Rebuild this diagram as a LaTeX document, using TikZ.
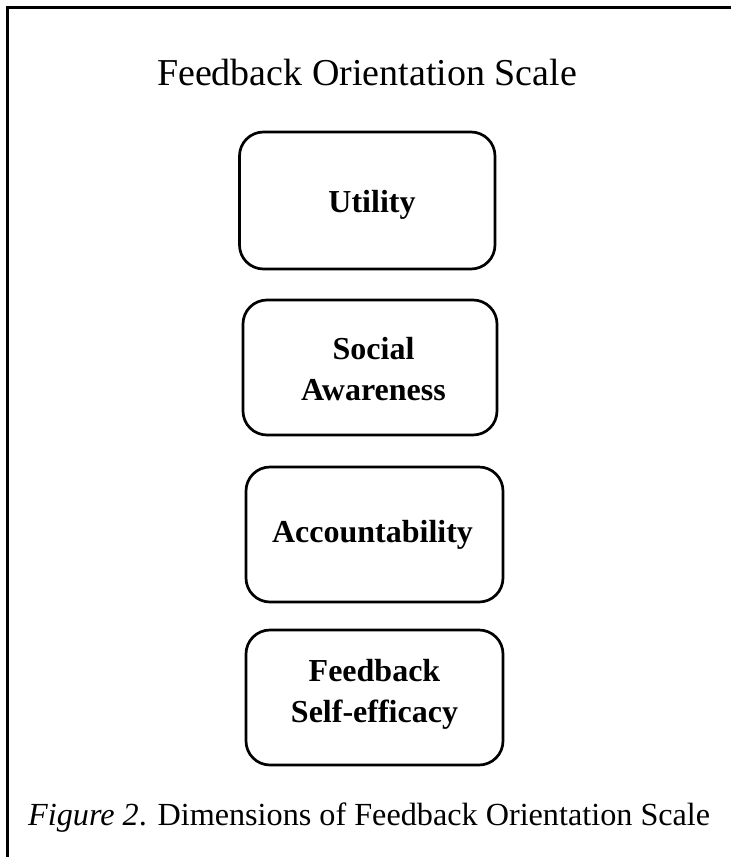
\documentclass[tikz,border=0pt]{standalone}
\usepackage{fontspec}
\setmainfont{Liberation Serif}
\begin{document}
\begin{tikzpicture}[x=1pt,y=-1pt,
  frameline/.style={line width=2.7pt},
  dimbox/.style={draw, line width=2.7pt, rounded corners=24pt, inner sep=0pt},
  dimlabel/.style={font=\fontsize{32}{41}\selectfont\bfseries, align=center, inner sep=0pt, anchor=base},
  titletext/.style={font=\fontsize{38}{44}\selectfont, inner sep=0pt, anchor=base},
  captiontext/.style={font=\fontsize{32.2}{38}\selectfont, inner sep=0pt, anchor=base west},
]
\useasboundingbox (0,0) rectangle (731,857);

% open frame: top and left edges only
\coordinate (fbl) at (7.5,857);
\coordinate (ftl) at (7.5,7.5);
\coordinate (ftr) at (731,7.5);
\draw[frameline] (fbl) -- (ftl) -- (ftr);

% heading
\node[titletext] (title) at (367,85) {Feedback Orientation Scale};

% the four dimension boxes
\node[dimbox, minimum width=255.5pt, minimum height=137pt] (util) at (367.25,200.5) {};
\node[dimbox, minimum width=254pt, minimum height=135pt] (social) at (370,367.5) {};
\node[dimbox, minimum width=257pt, minimum height=135pt] (account) at (374.5,534.5) {};
\node[dimbox, minimum width=257pt, minimum height=135pt] (selfeff) at (374.5,697.5) {};

% their labels (base of a two-line label is its last line)
\node[dimlabel] (utiltxt) at (372,212) {Utility};
\node[dimlabel] (socialtxt) at (373.5,400) {Social\\Awareness};
\node[dimlabel] (accounttxt) at (372.5,542) {Accountability};
\node[dimlabel] (selfefftxt) at (374.5,722) {Feedback\\Self-efficacy};

% caption
\node[captiontext] (caption) at (28,825) {\textit{Figure 2}. Dimensions of Feedback Orientation Scale};
\end{tikzpicture}
\end{document}
